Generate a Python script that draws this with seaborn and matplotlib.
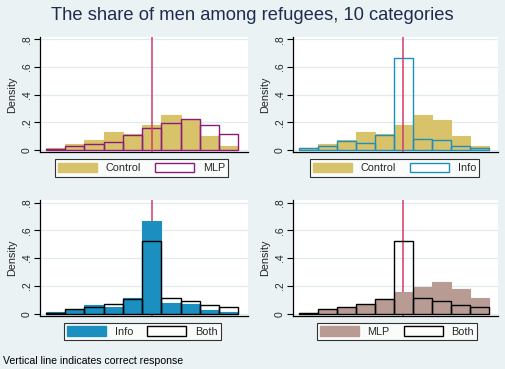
import numpy as np
import pandas as pd
import matplotlib.pyplot as plt
import seaborn as sns
from matplotlib.patches import Patch

# bin densities, 10 categories
categories = np.arange(1, 11)
control = [0.013, 0.039, 0.073, 0.126, 0.115, 0.178, 0.252, 0.213, 0.100, 0.031]
mlp = [0.005, 0.029, 0.039, 0.060, 0.108, 0.157, 0.193, 0.226, 0.179, 0.116]
info = [0.010, 0.025, 0.066, 0.050, 0.110, 0.669, 0.076, 0.073, 0.024, 0.015]
both = [0.008, 0.036, 0.052, 0.068, 0.107, 0.526, 0.112, 0.091, 0.060, 0.052]
correct = 5.5
yticks = [0, 0.2, 0.4, 0.6, 0.8]
ytick_labels = ["0", ".2", ".4", ".6", ".8"]

BG = "#eaf2f3"
GRID = "#e1eaee"
LINE = "#d43c66"
colors = {"Control": "#d8c26a", "MLP": "#b89c94", "Info": "#1a8fc0", "Both": "black"}
outline = {"MLP": "#8b1a7a", "Info": "#1a8fc0", "Both": "black"}
series = {"Control": control, "MLP": mlp, "Info": info, "Both": both}

df = pd.DataFrame({"center": categories - 0.5, **series})

sns.set_style("white")
plt.rcParams["font.family"] = ["Liberation Sans", "DejaVu Sans"]

fig = plt.figure(figsize=(5.05, 3.69), dpi=100, facecolor=BG)
W, H = 505, 369


def axes_px(x0, y0, x1, y1):
    return fig.add_axes([x0 / W, 1 - y1 / H, (x1 - x0) / W, (y1 - y0) / H])


panels = [
    ("Control", "MLP", (40, 37, 248, 152), (55, 159, 228, 177), True),
    ("Control", "Info", (293, 37, 498, 152), (311, 159, 478, 177), True),
    ("Info", "Both", (40, 200, 248, 316), (63, 321, 222, 342), False),
    ("MLP", "Both", (293, 200, 498, 316), (316, 321, 478, 342), False),
]

for filled, hollow, box, lbox, line_on_top in panels:
    ax = axes_px(*box)
    ax.set_facecolor("white")
    sns.histplot(data=df, x="center", weights=filled, bins=10, binrange=(0, 10),
                 stat="count", color=colors[filled], alpha=1,
                 edgecolor=colors[filled], linewidth=0.8, ax=ax, zorder=2)
    sns.histplot(data=df, x="center", weights=hollow, bins=10, binrange=(0, 10),
                 stat="count", fill=False, color=outline[hollow], linewidth=1.0,
                 ax=ax, zorder=3)
    ax.axvline(correct, color=LINE, lw=1.1, zorder=4 if line_on_top else 1)
    ax.set_xlim(-0.3, 10.5)
    ax.set_ylim(-0.016, 0.818)
    ax.set_xticks([])
    ax.set_yticks(yticks)
    ax.set_yticklabels(ytick_labels, rotation=90, va="center", fontsize=7.5)
    ax.tick_params(axis="y", length=4, width=0.8, color="black", pad=2, left=True)
    ax.set_ylabel("Density", fontsize=7.8, labelpad=3)
    ax.set_xlabel("")
    ax.yaxis.grid(True, color=GRID, lw=0.9, zorder=0)
    ax.set_axisbelow(True)
    for s in ["top", "right"]:
        ax.spines[s].set_visible(False)
    for s in ["left", "bottom"]:
        ax.spines[s].set_color("black")
        ax.spines[s].set_linewidth(0.9)

    handles = [
        Patch(facecolor=colors[filled], edgecolor=colors[filled], label=filled),
        Patch(facecolor="white", edgecolor=outline[hollow], linewidth=1.0, label=hollow),
    ]
    lx0, ly0, lx1, ly1 = lbox
    leg = fig.legend(handles=handles, ncol=2, loc="center",
                     bbox_to_anchor=((lx0 + lx1) / 2 / W, 1 - (ly0 + ly1) / 2 / H),
                     fontsize=7.8, frameon=True, fancybox=False, edgecolor="black",
                     handlelength=3.6, handleheight=1.0, columnspacing=1.3,
                     handletextpad=0.8, borderpad=0.3, borderaxespad=0)
    leg.get_frame().set_linewidth(0.8)
    leg.get_frame().set_facecolor("white")

fig.text(0.5, 1 - 15 / H, "The share of men among refugees, 10 categories",
         ha="center", va="center", fontsize=13.2, color="#1e2d4f")
fig.text(3 / W, 1 - 361 / H, "Vertical line indicates correct response",
         ha="left", va="center", fontsize=7.6, color="black")

fig.savefig("out.png", dpi=100, facecolor=BG)
